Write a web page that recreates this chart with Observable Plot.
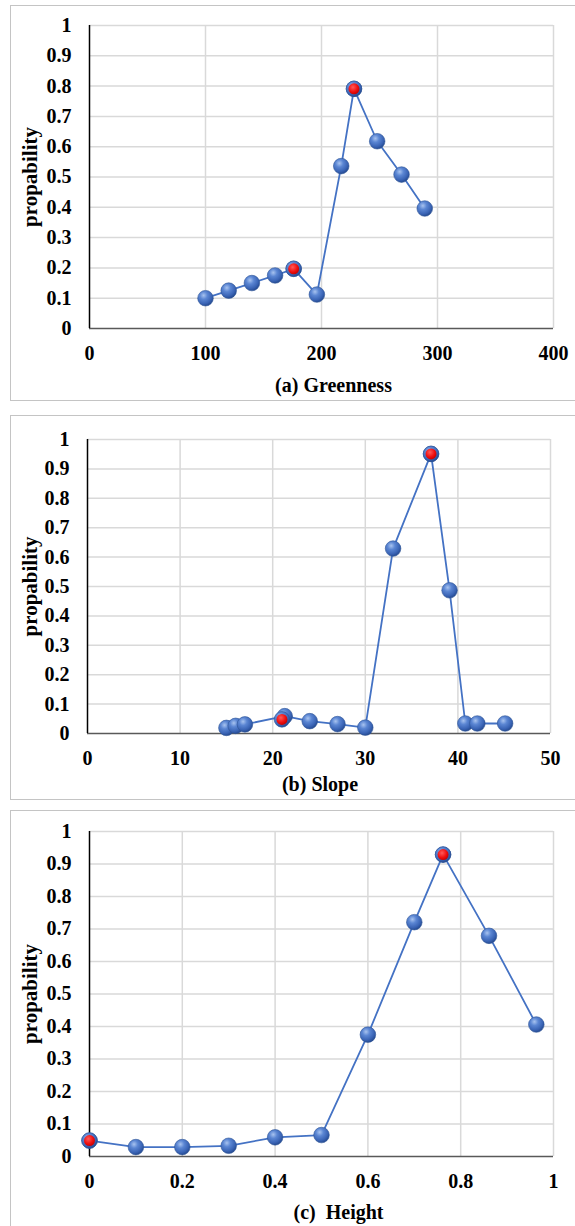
<!DOCTYPE html>
<html>
<head>
<meta charset="utf-8">
<script src="https://cdn.jsdelivr.net/npm/d3@7"></script>
<script src="https://cdn.jsdelivr.net/npm/@observablehq/plot@0.6"></script>
<style>
  html, body { margin: 0; padding: 0; background: #fff; overflow: hidden; }
  #wrap { position: relative; width: 575px; height: 1226px; overflow: hidden; }
  .box { position: absolute; left: 10px; width: 620px; border: 1.5px solid #c4c4c4; box-sizing: border-box; }
  .panel { position: absolute; left: 0; }
  .panel text { font-family: 'Liberation Serif', 'Times New Roman', serif !important; font-weight: bold; }
</style>
</head>
<body>
<div id="wrap"></div>
<script>
// ---------- data ----------
const yTicks = [0, 0.1, 0.2, 0.3, 0.4, 0.5, 0.6, 0.7, 0.8, 0.9, 1];

// (a) Greenness
const greenTicks = [0, 100, 200, 300, 400];
const greenX = [100, 120, 140, 160, 176, 196, 217, 228, 248, 269, 289];
const greenY = [0.10, 0.125, 0.15, 0.175, 0.197, 0.112, 0.536, 0.791, 0.618, 0.508, 0.396];
const greenRedX = [176, 228];
const greenRedY = [0.197, 0.791];

// (b) Slope
const slopeTicks = [0, 10, 20, 30, 40, 50];
const slopeX = [15, 16, 17, 21.3, 24, 27, 30, 33, 37.1, 39.1, 40.8, 42.1, 45.1];
const slopeY = [0.019, 0.026, 0.031, 0.059, 0.042, 0.032, 0.02, 0.629, 0.951, 0.487, 0.034, 0.034, 0.034];
const slopeRedX = [21.0, 37.1];
const slopeRedY = [0.048, 0.951];

// (c) Height
const heightTicks = [0, 0.2, 0.4, 0.6, 0.8, 1];
const heightX = [0, 0.1, 0.2, 0.3, 0.4, 0.5, 0.6, 0.7, 0.762, 0.861, 0.963];
const heightY = [0.049, 0.029, 0.029, 0.033, 0.059, 0.066, 0.375, 0.721, 0.929, 0.679, 0.406];
const heightRedX = [0, 0.762];
const heightRedY = [0.049, 0.929];

const titles = ["(a) Greenness", "(b) Slope", "(c)  Height"];
const yLabel = "propability";

// ---------- layout ----------
const panels = [
  {xs: greenX, ys: greenY, rx: greenRedX, ry: greenRedY, ticks: greenTicks, title: titles[0],
   boxTop: 5, boxH: 396, top: 5, height: 395, mt: 20, mb: 72, ml: 89, mr: 22, tdy: 57, tdx: 12},
  {xs: slopeX, ys: slopeY, rx: slopeRedX, ry: slopeRedY, ticks: slopeTicks, title: titles[1],
   boxTop: 415, boxH: 385, top: 415, height: 385, mt: 24, mb: 67, ml: 87, mr: 25, tdy: 51, tdx: 1},
  {xs: heightX, ys: heightY, rx: heightRedX, ry: heightRedY, ticks: heightTicks, title: titles[2],
   boxTop: 810, boxH: 440, top: 811, height: 415, mt: 20, mb: 70, ml: 89, mr: 22, tdy: 56, tdx: 17}
];

const wrap = document.getElementById("wrap");
const blue = "#4472C4";

panels.forEach((p, i) => {
  const box = document.createElement("div");
  box.className = "box";
  box.style.top = p.boxTop + "px";
  box.style.height = p.boxH + "px";
  wrap.appendChild(box);

  const pts = p.xs.map((x, k) => ({x, y: p.ys[k]}));
  const reds = p.rx.map((x, k) => ({x, y: p.ry[k]}));
  const gid = "ball" + i;
  const rid = "red" + i;

  const chart = Plot.plot({
    width: 575,
    height: p.height,
    marginTop: p.mt,
    marginBottom: p.mb,
    marginLeft: p.ml,
    marginRight: p.mr,
    style: {fontFamily: "'Liberation Serif', 'Times New Roman', serif", fontSize: "20px", fontWeight: "bold", color: "#000", background: "transparent", overflow: "visible"},
    x: {domain: [p.ticks[0], p.ticks[p.ticks.length - 1]], ticks: p.ticks, tickSize: 0, tickPadding: 17, tickFormat: d => String(d), label: null},
    y: {domain: [0, 1], ticks: yTicks, tickSize: 0, tickPadding: 18, tickFormat: d => String(d), label: null},
    marks: [
      Plot.ruleX(p.ticks.slice(1), {stroke: "#d9d9d9", strokeWidth: 1.5}),
      Plot.ruleY(yTicks.slice(1), {stroke: "#d9d9d9", strokeWidth: 1.5}),
      Plot.ruleY([0], {stroke: "#595959", strokeWidth: 1.5}),
      Plot.ruleX([p.ticks[0]], {stroke: "#000", strokeWidth: 1.5}),
      Plot.line(pts, {x: "x", y: "y", stroke: blue, strokeWidth: 1.8}),
      Plot.dot(pts.concat(reds), {x: "x", y: "y", r: 7.8, fill: `url(#${gid})`, stroke: "#2f5597", strokeWidth: 0.6}),
      Plot.dot(reds, {x: "x", y: "y", r: 5.5, fill: `url(#${rid})`, stroke: "none"}),
      Plot.text([p.title], {frameAnchor: "bottom", dy: p.tdy, dx: p.tdx, fontSize: 20, fontWeight: "bold", fill: "#000", lineAnchor: "middle"}),
      Plot.text([yLabel], {frameAnchor: "left", dx: -(p.ml - 30), rotate: -90, fontSize: 21, fontWeight: "bold", fill: "#000", lineAnchor: "middle", textAnchor: "middle"})
    ]
  });

  // shading gradients for the sphere-like markers
  const ns = "http://www.w3.org/2000/svg";
  const defs = document.createElementNS(ns, "defs");
  defs.innerHTML = `
    <radialGradient id="${gid}" cx="38%" cy="32%" r="70%">
      <stop offset="0%" stop-color="#a8c3ef"/>
      <stop offset="35%" stop-color="#5b86d3"/>
      <stop offset="75%" stop-color="#3a64b5"/>
      <stop offset="100%" stop-color="#24498f"/>
    </radialGradient>
    <radialGradient id="${rid}" cx="40%" cy="35%" r="70%">
      <stop offset="0%" stop-color="#ff5a5a"/>
      <stop offset="60%" stop-color="#f01010"/>
      <stop offset="100%" stop-color="#c00000"/>
    </radialGradient>`;
  chart.insertBefore(defs, chart.firstChild);

  chart.classList.add("panel");
  chart.style.position = "absolute";
  chart.style.top = p.top + "px";
  chart.style.left = "0px";
  wrap.appendChild(chart);
});
</script>
</body>
</html>
